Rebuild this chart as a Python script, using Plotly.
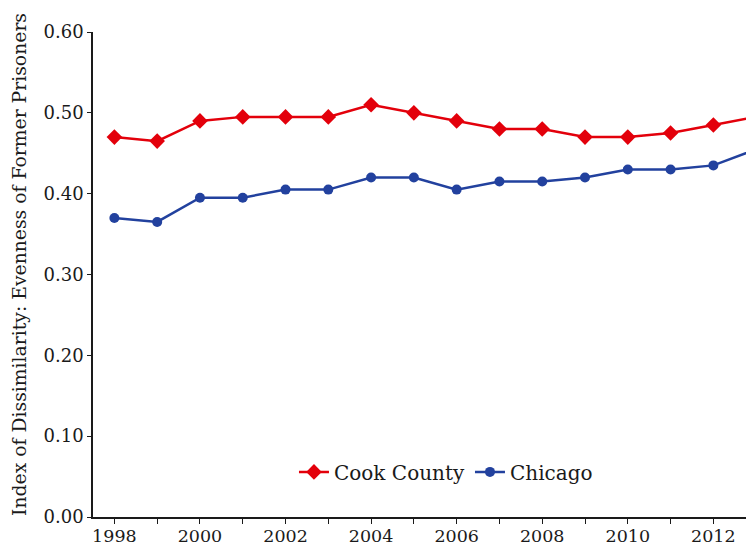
import plotly.graph_objects as go

years = list(range(1998, 2014))
cook_county = [0.47, 0.465, 0.49, 0.495, 0.495, 0.495, 0.51, 0.50, 0.49, 0.48, 0.48, 0.47, 0.47, 0.475, 0.485, 0.495]
chicago = [0.37, 0.365, 0.395, 0.395, 0.405, 0.405, 0.42, 0.42, 0.405, 0.415, 0.415, 0.42, 0.43, 0.43, 0.435, 0.455]
y_tick_vals = [0.0, 0.1, 0.2, 0.3, 0.4, 0.5, 0.6]
y_title = "Index of Dissimilarity: Evenness of Former Prisoners"

FONT = "DejaVu Serif"
RED = "#E3000B"
BLUE = "#22419E"

fig = go.Figure()
fig.add_trace(go.Scatter(
    x=years, y=cook_county, name="Cook County", mode="lines+markers",
    line=dict(color=RED, width=2.5),
    marker=dict(symbol="diamond", size=12, color=RED),
    cliponaxis=False,
))
fig.add_trace(go.Scatter(
    x=years, y=chicago, name="Chicago", mode="lines+markers",
    line=dict(color=BLUE, width=2.5),
    marker=dict(symbol="circle", size=10, color=BLUE),
    cliponaxis=False,
))

# page body has an 8px margin; figure sized to fit the 754x547 window
fig.update_layout(
    width=746, height=539,
    margin=dict(l=85, r=0, t=24, b=30),
    paper_bgcolor="white", plot_bgcolor="white",
    font=dict(family=FONT, size=18, color="#1a1a1a"),
    showlegend=True,
    legend=dict(orientation="h", x=0.534, xanchor="center", y=0.093, yanchor="middle",
                font=dict(family=FONT, size=20), bgcolor="rgba(0,0,0,0)"),
    annotations=[dict(text=y_title, textangle=-90, xref="paper", yref="paper",
                      x=-0.1104, y=0.5196, xanchor="center", yanchor="middle",
                      showarrow=False, font=dict(family=FONT, size=18.8, color="#1a1a1a"))],
)
fig.update_xaxes(
    range=[1997.5, 2012.95], tickmode="array", tickvals=years,
    ticktext=[str(y) if y % 2 == 0 else "" for y in years],
    ticks="outside", ticklen=5, tickcolor="#1a1a1a", tickwidth=1,
    showline=True, linecolor="#1a1a1a", linewidth=1.5,
    showgrid=False, zeroline=False, automargin=False,
    ticklabelstandoff=-3,
    tickfont=dict(family=FONT, size=17.5),
)
fig.update_yaxes(
    range=[0, 0.6], tickvals=y_tick_vals, tickformat=".2f",
    ticks="outside", ticklen=4, tickcolor="#1a1a1a",
    showline=True, linecolor="#1a1a1a", linewidth=1.5,
    showgrid=False, zeroline=False, automargin=False,
    tickfont=dict(family=FONT, size=18),
)

fig.write_html("out.html")
